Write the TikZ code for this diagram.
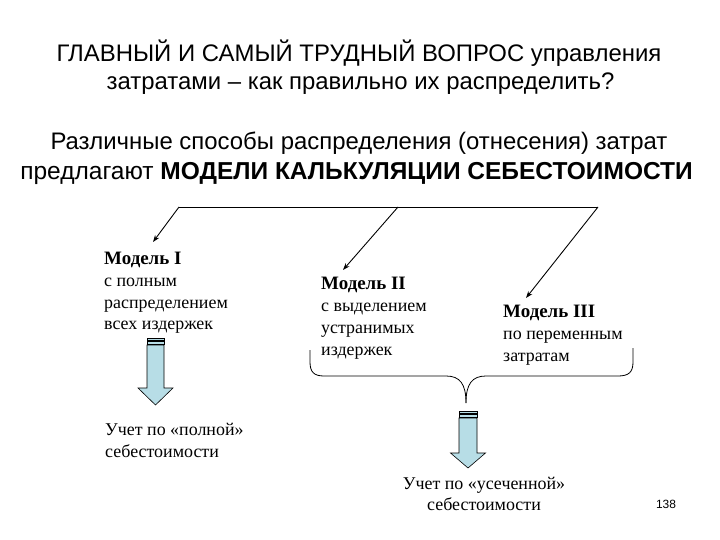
\documentclass[tikz,border=0pt]{standalone}
\usepackage{fontspec}
\setmainfont{Liberation Serif}
\newfontfamily\arialf{Liberation Sans}
\usetikzlibrary{arrows.meta}
\definecolor{arrowblue}{RGB}{183,221,230}
\tikzset{
  x=1bp, y=-1bp,
  ttl/.style={font=\arialf\fontsize{24}{28}\selectfont, inner sep=0pt, anchor=base},
  tms/.style={font=\fontsize{18}{21}\selectfont, inner sep=0pt, anchor=base west},
  tmsb/.style={font=\bfseries\fontsize{19}{21}\selectfont, inner sep=0pt, anchor=base west},
  tmsc/.style={font=\fontsize{18}{21}\selectfont, inner sep=0pt, anchor=base},
  conn/.style={line width=0.9pt, -{Stealth[length=7pt,width=5pt]}},
  blk/.style={draw=black, line width=0.6pt, fill=arrowblue},
}
\begin{document}
\begin{tikzpicture}
\useasboundingbox (0,0) rectangle (720,540);
% titles
\node[ttl] (t1) at (359,62) {ГЛАВНЫЙ И САМЫЙ ТРУДНЫЙ ВОПРОС управления};
\node[ttl] (t2) at (360.5,90) {затратами – как правильно их распределить?};
\node[ttl] (t3) at (359,150) {Различные способы распределения (отнесения) затрат};
\node[ttl, font=\arialf\fontsize{24.6}{28}\selectfont] (t4) at (356.5,180) {предлагают \textbf{МОДЕЛИ КАЛЬКУЛЯЦИИ СЕБЕСТОИМОСТИ}};
% distribution line
\coordinate (la) at (179,207);
\coordinate (lb) at (398,207);
\coordinate (lc) at (598,207);
\draw[line width=0.9pt] (la) -- (lc);
\coordinate (ea) at (153,242);
\coordinate (eb) at (343,270);
\coordinate (ec) at (526,298);
\draw[conn] (la) -- (ea);
\draw[conn] (lb) -- (eb);
\draw[conn] (lc) -- (ec);
% Model I
\node[tmsb] (m1a) at (104,265) {Модель I};
\node[tms] (m1b) at (104,286.5) {с полным};
\node[tms] (m1c) at (104,308) {распределением};
\node[tms] (m1d) at (104,329.5) {всех издержек};
% Model II
\node[tmsb] (m2a) at (321,289) {Модель II};
\node[tms] (m2b) at (321,311) {с выделением};
\node[tms] (m2c) at (321,333) {устранимых};
\node[tms] (m2d) at (321,355) {издержек};
% Model III
\node[tmsb] (m3a) at (503,317) {Модель III};
\node[tms] (m3b) at (503,339) {по переменным};
\node[tms] (m3c) at (503,361) {затратам};
% block arrow 1
\begin{scope}[shift={(155.5,0)}]
\draw[blk] (-8.5,338) rectangle (8.5,340.5);
\draw[blk] (-8.5,341.5) rectangle (8.5,344);
\draw[blk] (-8.5,345) -- (8.5,345) -- (8.5,388) -- (17.5,388) -- (0,405) -- (-17.5,388) -- (-8.5,388) -- cycle;
\end{scope}
% brace
\draw[line width=0.8pt] (310,350) -- (310,362) .. controls (310,372) and (314,376) .. (324,376)
  -- (446,376) .. controls (460,376) and (466,384) .. (466,403);
\draw[line width=0.8pt] (633,348) -- (633,362) .. controls (633,372) and (629,376) .. (618,376)
  -- (486,376) .. controls (472,376) and (466,384) .. (466,403);
% block arrow 2
\begin{scope}[shift={(468,0)}]
\draw[blk] (-9,411) rectangle (9,413.5);
\draw[blk] (-9,414.5) rectangle (9,417);
\draw[blk] (-9,418) -- (9,418) -- (9,453) -- (17.5,453) -- (0,468) -- (-17.5,453) -- (-9,453) -- cycle;
\end{scope}
% results
\node[tms] (r1a) at (105,435) {Учет по «полной»};
\node[tms] (r1b) at (105,457) {себестоимости};
\node[tmsc] (r2a) at (484,489) {Учет по «усеченной»};
\node[tmsc] (r2b) at (484,510) {себестоимости};
\node[font=\arialf\fontsize{12}{14}\selectfont, inner sep=0pt, anchor=base] (pg) at (666,508) {138};
\end{tikzpicture}
\end{document}
